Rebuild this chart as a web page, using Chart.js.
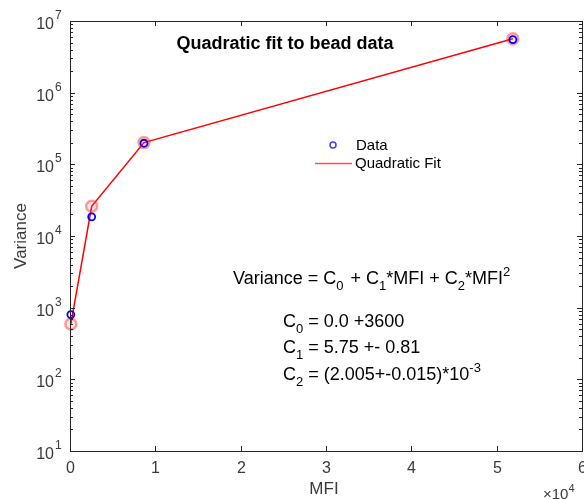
<!DOCTYPE html>
<html>
<head>
<meta charset="utf-8">
<script src="https://cdn.jsdelivr.net/npm/chart.js@4.4.1/dist/chart.umd.min.js"></script>
<style>
  html, body { margin: 0; padding: 0; background: #fff; overflow: hidden; }
  #wrap { width: 590px; height: 499px; position: relative; }
</style>
</head>
<body>
<div id="wrap"><canvas id="beadChart"></canvas></div>
<script>
// Bead data
const mfiValues = [100, 2540, 8670, 51900];
const varianceData = [800, 18500, 197000, 5500000];
const varianceFit = [590, 26000, 201000, 5650000];

const xTicks = [0, 10000, 20000, 30000, 40000, 50000, 60000];
const xTickLabels = ['0', '1', '2', '3', '4', '5', '6'];
const yTicks = [1e1, 1e2, 1e3, 1e4, 1e5, 1e6, 1e7];
const yTickExps = ['1', '2', '3', '4', '5', '6', '7'];

const FONT = "'Liberation Sans', Arial, sans-serif";
const AXIS_COLOR = '#262626';
const LABEL_COLOR = '#3a3a3a';

// draw text made of runs with sub/superscripts
function drawRich(ctx, x, y, runs, size, color) {
  ctx.fillStyle = color;
  ctx.textBaseline = 'alphabetic';
  ctx.textAlign = 'left';
  let cx = x;
  runs.forEach(r => {
    const s = r.sub || r.sup ? Math.round(size * 0.7) : size;
    const dy = r.sub ? size * 0.35 : r.sup ? -size * 0.45 : 0;
    ctx.font = s + 'px ' + FONT;
    ctx.fillText(r.t, cx, y + dy);
    cx += ctx.measureText(r.t).width + (r.gap || 0);
  });
}

const matlabAxes = {
  id: 'matlabAxes',
  afterDatasetsDraw(chart) {
    const { ctx, chartArea: a, scales } = chart;
    const xs = scales.x, ys = scales.y;
    ctx.save();

    // box
    ctx.strokeStyle = AXIS_COLOR;
    ctx.lineWidth = 1;
    ctx.strokeRect(a.left + 0.5, a.top + 0.5, a.right - a.left, a.bottom - a.top);

    // x ticks, inward top and bottom
    xTicks.forEach((v, i) => {
      const px = Math.round(xs.getPixelForValue(v)) + 0.5;
      ctx.beginPath();
      ctx.moveTo(px, a.bottom); ctx.lineTo(px, a.bottom - 5);
      ctx.moveTo(px, a.top); ctx.lineTo(px, a.top + 5);
      ctx.stroke();
      ctx.fillStyle = LABEL_COLOR;
      ctx.font = '16px ' + FONT;
      ctx.textAlign = 'center';
      ctx.textBaseline = 'middle';
      ctx.fillText(xTickLabels[i], px, a.bottom + 18);
    });

    // y ticks with minor ticks, both sides
    yTicks.forEach((v, i) => {
      const py = Math.round(ys.getPixelForValue(v)) + 0.5;
      ctx.beginPath();
      ctx.moveTo(a.left, py); ctx.lineTo(a.left + 5, py);
      ctx.moveTo(a.right, py); ctx.lineTo(a.right - 5, py);
      ctx.stroke();
      if (i < yTicks.length - 1) {
        for (let m = 2; m <= 9; m++) {
          const pm = Math.round(ys.getPixelForValue(v * m)) + 0.5;
          ctx.beginPath();
          ctx.moveTo(a.left, pm); ctx.lineTo(a.left + 3, pm);
          ctx.moveTo(a.right, pm); ctx.lineTo(a.right - 3, pm);
          ctx.stroke();
        }
      }
      // "10" with exponent
      ctx.fillStyle = LABEL_COLOR;
      ctx.font = '16px ' + FONT;
      ctx.textAlign = 'right';
      ctx.textBaseline = 'middle';
      ctx.fillText('10', a.left - 16, py + 3);
      ctx.font = '12px ' + FONT;
      ctx.textAlign = 'left';
      ctx.fillText(yTickExps[i], a.left - 15, py - 6);
    });

    // axis labels
    ctx.fillStyle = LABEL_COLOR;
    ctx.font = '17px ' + FONT;
    ctx.textAlign = 'center';
    ctx.textBaseline = 'middle';
    ctx.fillText('MFI', 324, 489);
    ctx.save();
    ctx.translate(21, 236);
    ctx.rotate(-Math.PI / 2);
    ctx.fillText('Variance', 0, 0);
    ctx.restore();
    drawRich(ctx, 543, 499, [{ t: '×10' }, { t: '4', sup: true }], 15, LABEL_COLOR);

    // title
    ctx.fillStyle = '#000';
    ctx.font = 'bold 18px ' + FONT;
    ctx.textAlign = 'center';
    ctx.textBaseline = 'middle';
    ctx.fillText('Quadratic fit to bead data', 285, 44);

    // legend
    ctx.strokeStyle = '#4040ff';
    ctx.lineWidth = 1.5;
    ctx.beginPath();
    ctx.arc(333, 145, 3, 0, Math.PI * 2);
    ctx.stroke();
    ctx.strokeStyle = '#ff5050';
    ctx.beginPath();
    ctx.moveTo(315, 163.5); ctx.lineTo(352, 163.5);
    ctx.stroke();
    ctx.fillStyle = '#000';
    ctx.font = '15px ' + FONT;
    ctx.textAlign = 'left';
    ctx.fillText('Data', 356, 146);
    ctx.fillText('Quadratic Fit', 355, 164);

    // fit equation
    drawRich(ctx, 233, 284, [
      { t: 'Variance = C' }, { t: '0', sub: true, gap: 2 }, { t: ' + C' }, { t: '1', sub: true },
      { t: '*MFI + C' }, { t: '2', sub: true }, { t: '*MFI' }, { t: '2', sup: true }
    ], 18, '#000');
    drawRich(ctx, 283, 327, [{ t: 'C' }, { t: '0', sub: true }, { t: ' = 0.0 +3600' }], 18, '#000');
    drawRich(ctx, 283, 353, [{ t: 'C' }, { t: '1', sub: true }, { t: ' = 5.75 +- 0.81' }], 18, '#000');
    drawRich(ctx, 283, 380, [{ t: 'C' }, { t: '2', sub: true }, { t: ' = (2.005+-0.015)*10' }, { t: '-3', sup: true }], 18, '#000');

    ctx.restore();
  }
};

new Chart(document.getElementById('beadChart'), {
  type: 'scatter',
  data: {
    datasets: [
      {
        label: 'Data',
        data: mfiValues.map((x, i) => ({ x, y: varianceData[i] })),
        showLine: false,
        clip: false,
        pointRadius: 3.5,
        pointBorderWidth: 1.8,
        pointBorderColor: '#0000ff',
        pointBackgroundColor: 'rgba(0,0,0,0)',
        order: 0
      },
      {
        label: 'Quadratic Fit',
        data: mfiValues.map((x, i) => ({ x, y: varianceFit[i] })),
        showLine: true,
        clip: false,
        borderColor: '#ff0000',
        borderWidth: 1.5,
        pointRadius: 5.5,
        pointBorderWidth: 2.5,
        pointBorderColor: 'rgba(255,40,40,0.45)',
        pointBackgroundColor: 'rgba(255,80,80,0.15)',
        order: 1
      }
    ]
  },
  options: {
    responsive: true,
    maintainAspectRatio: false,
    animation: false,
    events: [],
    layout: { padding: { top: 21, right: 2, left: 0, bottom: 0 } },
    plugins: { legend: { display: false }, tooltip: { enabled: false } },
    scales: {
      x: {
        type: 'linear', min: 0, max: 60000,
        grid: { display: false }, border: { display: false },
        ticks: { display: false },
        afterFit(s) { s.height = 48; s.paddingLeft = 0; s.paddingRight = 0; }
      },
      y: {
        type: 'logarithmic', min: 10, max: 1e7,
        grid: { display: false }, border: { display: false },
        ticks: { display: false },
        afterFit(s) { s.width = 70; s.paddingTop = 0; s.paddingBottom = 0; }
      }
    }
  },
  plugins: [matlabAxes]
});
</script>
</body>
</html>
